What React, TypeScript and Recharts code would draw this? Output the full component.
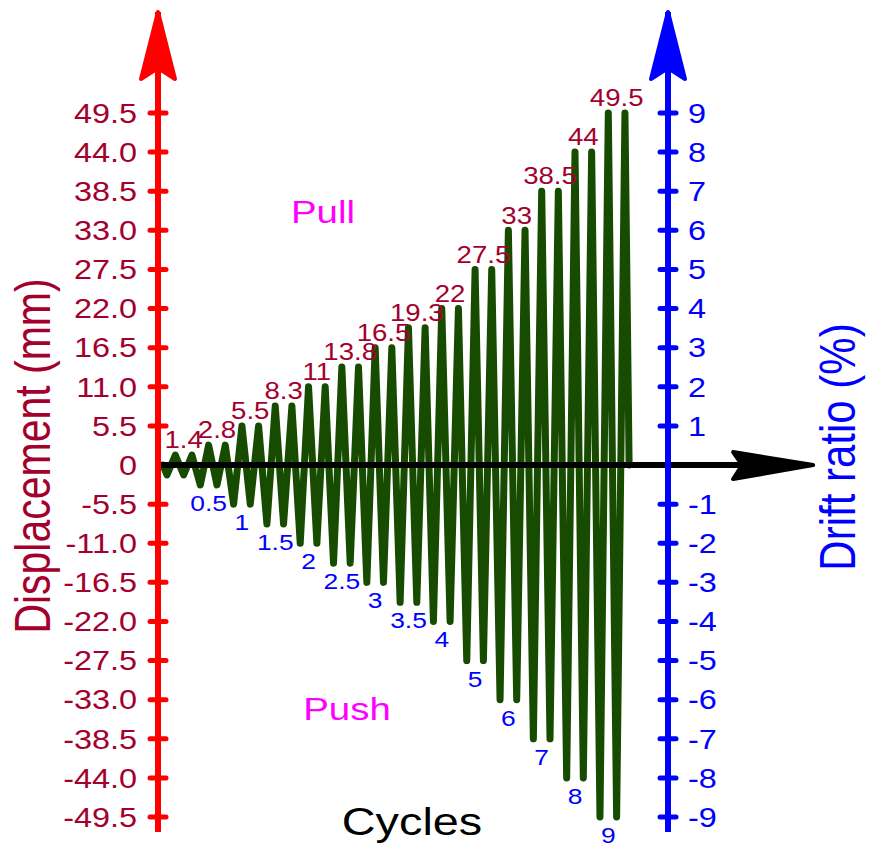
import React from 'react';
import {
  ComposedChart, Line, Scatter, XAxis, YAxis, ReferenceLine, ReferenceDot,
} from 'recharts';

// loading protocol: two cycles per displacement step
const AMPLITUDES_MM = [1.4, 2.8, 5.5, 8.3, 11, 13.8, 16.5, 19.3, 22, 27.5, 33, 38.5, 44, 49.5];
const PEAK_LABELS = ['1.4', '2.8', '5.5', '8.3', '11', '13.8', '16.5', '19.3', '22', '27.5', '33', '38.5', '44', '49.5'];
const DRIFT_LABELS = [null, '0.5', '1', '1.5', '2', '2.5', '3', '3.5', '4', '5', '6', '7', '8', '9'];
const CYCLES_PER_STEP = 2;

const LEFT_TICKS = [-49.5, -44, -38.5, -33, -27.5, -22, -16.5, -11, -5.5, 0, 5.5, 11, 16.5, 22, 27.5, 33, 38.5, 44, 49.5];
const RIGHT_TICKS = [-9, -8, -7, -6, -5, -4, -3, -2, -1, 1, 2, 3, 4, 5, 6, 7, 8, 9];
const DRIFT_PER_MM = 9 / 49.5;

const W = 870;
const H = 847;
const Y_MAX = 63.7;
const Y_MIN = -51.6;
const X_MIN = -0.58;
const X_MAX = 60.67;
const X_ARROW_START = -0.22;
const X_ARROW_END = 78.1;

const FONT = '"Liberation Sans", Arial, sans-serif';
const SX = 1.2; // text in the source is stretched horizontally
const DARK_RED = '#a3002d';
const RED = '#ff0000';
const BLUE = '#0000ff';
const GREEN = '#174c00';
const MAGENTA = '#ff00ff';

// zigzag: 0, then -A/+A twice per step, back to 0
const zigzag: { x: number; y: number }[] = [{ x: 0, y: 0 }];
AMPLITUDES_MM.forEach((a, i) => {
  for (let c = 0; c < CYCLES_PER_STEP; c++) {
    const base = i * 2 * CYCLES_PER_STEP + c * 2 + 0.5;
    zigzag.push({ x: base, y: -a });
    zigzag.push({ x: base + 1, y: a });
  }
});
zigzag.push({ x: AMPLITUDES_MM.length * 2 * CYCLES_PER_STEP, y: 0 });

const peakLabels = AMPLITUDES_MM.map((a, i) => ({ x: i * 4 + 2.5, y: a, text: PEAK_LABELS[i] }));
const troughLabels = AMPLITUDES_MM
  .map((a, i) => ({ x: i * 4 + 1.5, y: -a, text: DRIFT_LABELS[i] }))
  .filter((d) => d.text);

function SText({ x, y, size, fill, anchor = 'middle', vertical = false, children }: any) {
  const t = vertical
    ? `translate(${x},${y}) rotate(-90) scale(1,${SX})`
    : `translate(${x},${y}) scale(${SX},1)`;
  return (
    <text transform={t} x={0} y={0} fontSize={size} fill={fill} textAnchor={anchor} fontFamily={FONT}>
      {children}
    </text>
  );
}

function LeftTick({ x, y, payload }: any) {
  const v = payload.value;
  return (
    <g>
      {v !== 0 && (
        <line x1={x - 8} x2={x + 8} y1={y} y2={y} stroke={RED} strokeWidth={5} strokeLinecap="round" />
      )}
      <SText x={x - 21} y={y + 27 * 0.36} size={27} fill={DARK_RED} anchor="end">
        {v === 0 ? '0' : v.toFixed(1)}
      </SText>
    </g>
  );
}

function RightTick({ x, y, payload }: any) {
  return (
    <g>
      <line x1={x - 8} x2={x + 8} y1={y} y2={y} stroke={BLUE} strokeWidth={5} strokeLinecap="round" />
      <SText x={x + 20} y={y + 27 * 0.36} size={27} fill={BLUE} anchor="start">
        {payload.value}
      </SText>
    </g>
  );
}

const upArrow = (color: string) => ({ cx, cy }: any) => (
  <polygon
    points={`${cx},${cy} ${cx - 17},${cy + 67} ${cx},${cy + 56} ${cx + 17},${cy + 67}`}
    fill={color}
    stroke={color}
    strokeWidth={4}
    strokeLinejoin="round"
  />
);

const rightArrow = ({ x1, y1, x2 }: any) => (
  <g>
    <line x1={x1} x2={x2 - 70} y1={y1} y2={y1} stroke="#000" strokeWidth={6} />
    <polygon
      points={`${x2},${y1} ${x2 - 80},${y1 - 13} ${x2 - 71},${y1} ${x2 - 80},${y1 + 14}`}
      fill="#000"
      stroke="#000"
      strokeWidth={4}
      strokeLinejoin="round"
    />
  </g>
);

export default function App() {
  return (
    <div style={{ position: 'absolute', left: 0, top: 0, width: W, height: H, background: '#fff' }}>
      <ComposedChart
        width={W}
        height={H}
        margin={{ top: 12, right: 0, bottom: 15, left: 0 }}
      >
        <XAxis dataKey="x" type="number" domain={[X_MIN, X_MAX]} hide height={0} />
        <YAxis
          yAxisId="left"
          dataKey="y"
          type="number"
          domain={[Y_MIN, Y_MAX]}
          ticks={LEFT_TICKS}
          interval={0}
          width={158}
          tickSize={0}
          tickMargin={0}
          tickLine={false}
          axisLine={{ stroke: RED, strokeWidth: 6 }}
          tick={<LeftTick />}
        />
        <YAxis
          yAxisId="right"
          orientation="right"
          type="number"
          domain={[Y_MIN * DRIFT_PER_MM, Y_MAX * DRIFT_PER_MM]}
          allowDataOverflow
          ticks={RIGHT_TICKS}
          interval={0}
          width={202}
          tickSize={0}
          tickMargin={0}
          tickLine={false}
          axisLine={{ stroke: BLUE, strokeWidth: 6 }}
          tick={<RightTick />}
        />
        <Line
          yAxisId="left"
          data={zigzag}
          dataKey="y"
          type="linear"
          stroke={GREEN}
          strokeWidth={7}
          strokeLinejoin="round"
          strokeLinecap="round"
          dot={false}
          activeDot={false}
          isAnimationActive={false}
        />
        <ReferenceLine
          yAxisId="left"
          segment={[{ x: X_ARROW_START, y: 0 }, { x: X_ARROW_END, y: 0 }]}
          ifOverflow="visible"
          shape={rightArrow}
        />
        <Scatter
          yAxisId="left"
          data={peakLabels}
          dataKey="y"
          isAnimationActive={false}
          shape={(p: any) => (
            <SText x={p.cx} y={p.cy - 15 + 23 * 0.36} size={23} fill={DARK_RED}>
              {p.payload.text}
            </SText>
          )}
        />
        <Scatter
          yAxisId="left"
          data={troughLabels}
          dataKey="y"
          isAnimationActive={false}
          shape={(p: any) => (
            <SText x={p.cx} y={p.cy + 18 + 22 * 0.36} size={22} fill={BLUE}>
              {p.payload.text}
            </SText>
          )}
        />
        <ReferenceDot yAxisId="left" x={X_MIN} y={Y_MAX} ifOverflow="visible" shape={upArrow(RED)} />
        <ReferenceDot
          yAxisId="right"
          x={X_MAX}
          y={Y_MAX * DRIFT_PER_MM}
          ifOverflow="visible"
          shape={upArrow(BLUE)}
        />
      </ComposedChart>
      <svg
        width={W}
        height={H}
        style={{ position: 'absolute', left: 0, top: 0, pointerEvents: 'none' }}
      >
        <SText x={50} y={456} size={41} fill={DARK_RED} vertical>Displacement (mm)</SText>
        <SText x={855} y={447} size={42} fill={BLUE} vertical>Drift ratio (%)</SText>
        <SText x={412} y={835} size={39} fill="#000">Cycles</SText>
        <SText x={323} y={223} size={32} fill={MAGENTA}>Pull</SText>
        <SText x={347} y={720} size={32} fill={MAGENTA}>Push</SText>
      </svg>
    </div>
  );
}
